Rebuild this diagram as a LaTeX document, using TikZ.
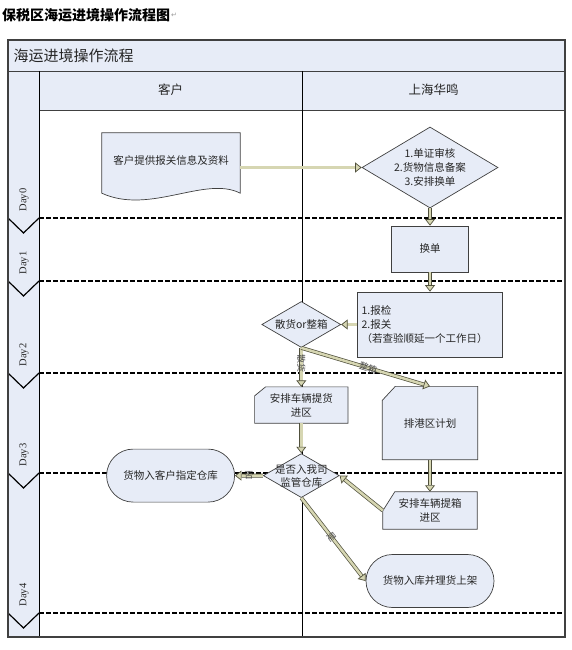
\documentclass[tikz,border=0pt]{standalone}
\usepackage{fontspec}
\setmainfont{Liberation Serif}
\newfontfamily\cjk{Noto Sans CJK SC}
\newfontfamily\markfont{DejaVu Sans}
\usetikzlibrary{shapes.geometric,shapes.misc,arrows.meta,positioning}
\definecolor{lanefill}{RGB}{231,236,247}
\definecolor{framegray}{RGB}{64,64,64}
\definecolor{arrowedge}{RGB}{80,80,60}
\definecolor{arrowfill}{RGB}{214,214,178}

\begin{document}
\begin{tikzpicture}[x=1pt, y=-1pt, font=\cjk\fontsize{10.5}{14}\selectfont, text=black!85]
\tikzstyle{shapeline}=[draw=framegray, fill=lanefill, line width=0.7pt]
\tikzstyle{process}=[rectangle, shapeline, inner sep=2pt, align=center]
\tikzstyle{decision}=[process, diamond, inner sep=0pt]
\tikzstyle{terminal}=[process, rounded rectangle, minimum width=132pt, minimum height=53pt]
\tikzstyle{flowarrow}=[draw=arrowedge, line width=0.7pt, double=arrowfill, double distance=2.5pt, -{Triangle[length=6.5pt, width=10pt, fill=arrowfill]}]
\tikzstyle{daysep}=[line width=1.6pt, dash pattern=on 4.5pt off 2.5pt]
\tikzstyle{edgetext}=[font=\cjk\fontsize{9}{9}\selectfont, text=black!70, sloped, inner sep=0pt]

\useasboundingbox (0,0) rectangle (571,650);

% title
\node[anchor=west, inner sep=0pt, font=\cjk\bfseries\fontsize{14}{14}\selectfont, text=black] (title) at (2,15) {保税区海运进境操作流程图};
\node[anchor=west, inner sep=0.5pt, font=\markfont\fontsize{7}{7}\selectfont, text=black!40] (retmark) at (title.east) {↵};

% swimlanes
\fill[lanefill] (8,40) rectangle (565,71);
\fill[lanefill] (8,71) rectangle (39,637);
\fill[lanefill] (39,71) rectangle (565,110);
\draw[framegray, line width=0.8pt] (8,71) -- (565,71);
\draw[framegray, line width=0.8pt] (39,110) -- (565,110);
\draw[line width=0.8pt] (39,71) -- (39,637);
\draw[line width=0.6pt] (302,71) -- (302,637);
\node[anchor=west, font=\cjk\fontsize{15}{15}\selectfont] (flowname) at (10,56) {海运进境操作流程};
\node[font=\cjk\fontsize{12.5}{12.5}\selectfont] (lanecust) at (170.5,90) {客户};
\node[font=\cjk\fontsize{12.5}{12.5}\selectfont] (laneself) at (433.5,90) {上海华鸣};

% days
\foreach \b/\d in {218/0, 281/1, 373/2, 473/3, 613/4} {
  \draw[daysep] (39,\b) -- (565,\b);
  \draw[line width=1.2pt] (8,\b) -- (23.5,\b+15) -- (39,\b);
  \node[rotate=90, font=\rmfamily\fontsize{10.5}{10.5}\selectfont] (day\d) at (24,\b-18) {Day\d};
}
\draw[framegray, line width=1.6pt] (8,40) rectangle (565,637);

% customer documents
\node[minimum width=138pt, minimum height=60pt, inner sep=0pt] (doc) at (171,163) {};
\filldraw[shapeline] (doc.north west) -- (doc.north east) -- (doc.south east)
  .. controls +(-35,-18) and +(48,22) .. (doc.south west) -- cycle;
\node (doctext) at ([yshift=3pt]doc.center) {客户提供报关信息及资料};

% Shanghai Huaming steps
\node[decision, aspect=1.68, minimum width=136pt, minimum height=81pt] (check) at (430,167.5) {1.单证审核\\2.货物信息备案\\3.安排换单};
\node[process, minimum width=77pt, minimum height=46pt] (swap) [node distance=81.5pt, below of=check] {换单};
\node[process, minimum height=65pt, text width=137pt, inner xsep=4pt, align=left] (declare) [node distance=75.5pt, below of=swap] {1.报检\\2.报关\\（若查验顺延一个工作日）};
\node[decision, aspect=1.72, minimum width=79pt, minimum height=46pt] (mode) [left=16pt of declare] {散货or整箱};

\node[minimum width=93pt, minimum height=36pt, inner sep=0pt] (pickup) [below=39pt of mode] {};
\filldraw[shapeline] ([yshift=-9pt]pickup.north west) -- ([xshift=11pt]pickup.north west) -- (pickup.north east) -- (pickup.south east) -- (pickup.south west) -- cycle;
\node[align=center] (pickuptext) at (pickup) {安排车辆提货\\进区};

\node[minimum width=95pt, minimum height=73pt, inner sep=0pt] (plan) [below=29pt of declare] {};
\filldraw[shapeline] ([yshift=-14pt]plan.north west) -- ([xshift=13pt]plan.north west) -- (plan.north east) -- (plan.south east) -- (plan.south west) -- cycle;
\node (plantext) at (plan) {排港区计划};

\node[decision, aspect=1.73, minimum width=76pt, minimum height=44pt] (depot) [below=30pt of pickup] {};
\node[align=center, font=\cjk\fontsize{10.5}{13}\selectfont] (depottext) at (depot) {是否入我司\\监管仓库};
\node[terminal] (ware) [left=28pt of depot] {货物入客户指定仓库};

\node[minimum width=94pt, minimum height=37pt, inner sep=0pt] (boxin) [below=32pt of plan] {};
\filldraw[shapeline] ([yshift=-19pt]boxin.north west) -- ([xshift=12pt]boxin.north west) -- (boxin.north east) -- (boxin.south east) -- (boxin.south west) -- cycle;
\node[align=center] (boxintext) at (boxin) {安排车辆提箱\\进区};
\node[terminal] (store) [below=25pt of boxin] {货物入库并理货上架};

% connectors
\draw[flowarrow] (doc.east |- check.west) -- (check.west);
\draw[flowarrow] (check) -- (swap);
\draw[flowarrow] (swap) -- (declare);
\draw[flowarrow] (declare) -- (mode);
\draw[flowarrow] (mode.south) -- node[edgetext, pos=0.4] (lblbulk) {散货} (pickup);
\draw[flowarrow] (mode.south) -- node[edgetext, pos=0.52] (lblbox) {整箱} (plan.north);
\draw[flowarrow] (pickup) -- (depot);
\draw[flowarrow] (depot) -- node[edgetext, pos=0.5] (lblno) {否} (ware);
\draw[flowarrow] (plan) -- (boxin);
\draw[flowarrow] (boxin.west) -- (depot.east);
\draw[flowarrow] (depot.south) -- node[edgetext, pos=0.47] (lblyes) {是} (store.west);
\end{tikzpicture}
\end{document}
